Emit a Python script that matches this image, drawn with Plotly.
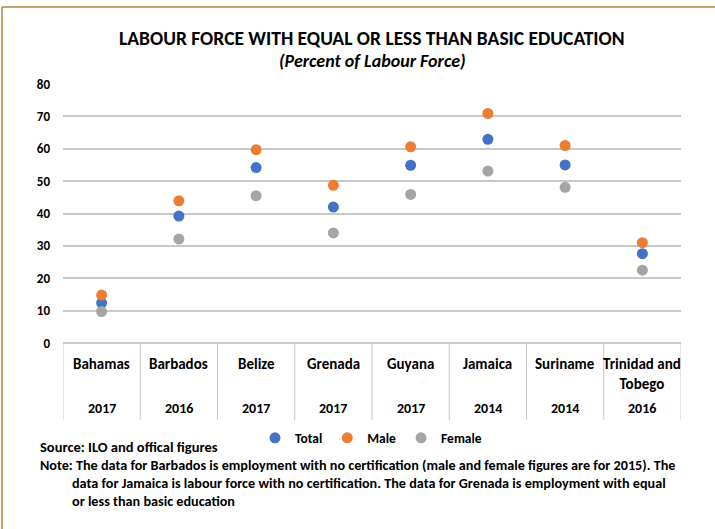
import plotly.graph_objects as go

# Data
countries = ["Bahamas", "Barbados", "Belize", "Grenada", "Guyana", "Jamaica", "Suriname", "Trinidad and<br>Tobego"]
years = ["2017", "2016", "2017", "2017", "2017", "2014", "2014", "2016"]
total = [12.4, 39.2, 54.2, 42.0, 54.9, 62.9, 55.0, 27.6]
male = [14.8, 43.9, 59.7, 48.7, 60.6, 70.9, 61.0, 31.0]
female = [9.7, 32.1, 45.5, 34.0, 45.9, 53.1, 48.1, 22.5]

W, H = 715, 529
ML, MR, MT, MB = 63, 34, 84, 186
PW, PH = W - ML - MR, H - MT - MB

def px_x(p):
    return (p - ML) / PW

def px_y(p):
    return (H - MB - p) / PH

FONT = "Carlito, 'Liberation Sans Narrow', 'Arial Narrow', 'Liberation Sans', sans-serif"
idx = list(range(len(countries)))

fig = go.Figure()
for name, vals, color in [("Total", total, "#4472C4"),
                          ("Male", male, "#ED7D31"),
                          ("Female", female, "#A5A5A5")]:
    fig.add_trace(go.Scatter(x=idx, y=vals, mode="markers", name=name,
                             marker=dict(size=11, color=color)))

def txt(size=14):
    return dict(family=FONT, size=size, color="black", weight="bold")

def note(text, x, y, size):
    return dict(text=text, x=px_x(x), y=px_y(y), xref="paper", yref="paper",
                xanchor="left", yanchor="middle", showarrow=False, font=txt(size))

annotations = [
    dict(text="LABOUR FORCE WITH EQUAL OR LESS THAN BASIC EDUCATION",
         x=0.5, y=px_y(38), xref="paper", yref="paper", yanchor="middle",
         showarrow=False, font=txt(19.5)),
    dict(text="<i>(Percent of Labour Force)</i>",
         x=0.5, y=px_y(61), xref="paper", yref="paper", yanchor="middle",
         showarrow=False, font=txt(18)),
    note("Source: ILO and offical figures", 38, 447, 14.5),
    note("Note: The data for Barbados is employment with no certification (male and female figures are for 2015). The",
         38, 465, 14.2),
    note("data for Jamaica is labour force with no certification. The data for Grenada is employment with equal",
         70, 483, 14.2),
    note("or less than basic education", 70, 501, 14.2),
]

# Category table below the axis
for i, (c, yr) in enumerate(zip(countries, years)):
    annotations.append(dict(text=c, x=i, y=px_y(353), xref="x", yref="paper",
                            yanchor="top", showarrow=False, font=txt(15)))
    annotations.append(dict(text=yr, x=i, y=px_y(408), xref="x", yref="paper",
                            yanchor="middle", showarrow=False, font=txt(14)))

shapes = []
for k in range(len(countries) + 1):
    shapes.append(dict(type="line", xref="x", yref="paper", x0=k - 0.5, x1=k - 0.5,
                       y0=0, y1=px_y(420), line=dict(color="#C8C8C8", width=1)))

# Frame edges
border = "#B8853A"
shapes.append(dict(type="line", xref="paper", yref="paper", x0=px_x(2), x1=px_x(2),
                   y0=px_y(7), y1=px_y(H + 5), line=dict(color=border, width=1.5)))
shapes.append(dict(type="line", xref="paper", yref="paper", x0=px_x(2), x1=px_x(W + 5),
                   y0=px_y(7), y1=px_y(7), line=dict(color=border, width=1.5)))

fig.update_layout(
    width=W, height=H,
    margin=dict(l=ML, r=MR, t=MT, b=MB, autoexpand=False),
    paper_bgcolor="white", plot_bgcolor="white",
    showlegend=True,
    legend=dict(orientation="h", x=px_x(255), y=px_y(438), xanchor="left", yanchor="middle",
                font=txt(13.5), itemwidth=30, tracegroupgap=0, bgcolor="rgba(0,0,0,0)"),
    xaxis=dict(range=[-0.5, len(countries) - 0.5], showticklabels=False, showgrid=False,
               zeroline=False, showline=False, fixedrange=True),
    yaxis=dict(range=[0, 80], dtick=10, showgrid=True, gridcolor="#C8C8C8", gridwidth=1.5,
               zeroline=True, zerolinecolor="#C8C8C8", zerolinewidth=1.5, showline=False,
               ticklabelstandoff=12, tickfont=txt(13)),
    annotations=annotations,
    shapes=shapes,
)

fig.write_html("out.html")
